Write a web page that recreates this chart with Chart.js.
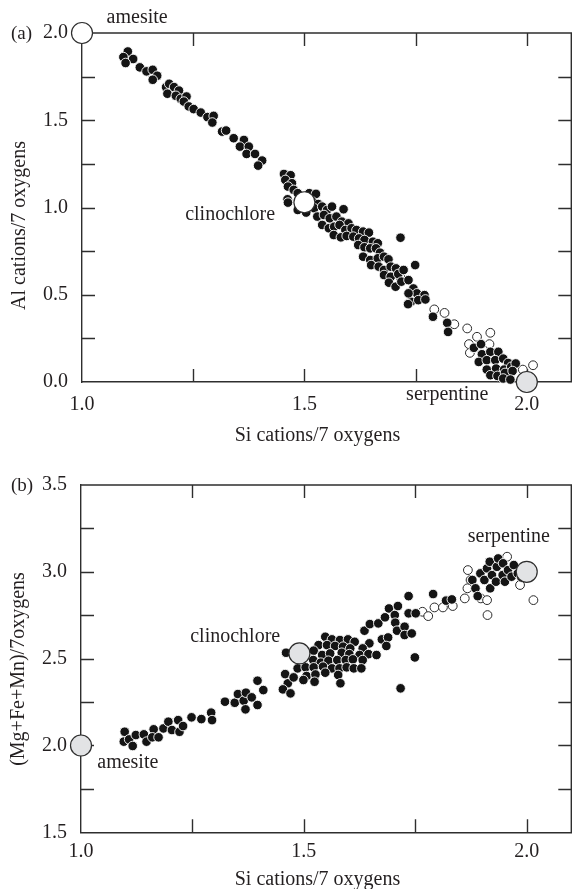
<!DOCTYPE html>
<html>
<head>
<meta charset="utf-8">
<script src="https://cdn.jsdelivr.net/npm/chart.js@4.4.1/dist/chart.umd.min.js"></script>
<style>
  html, body { margin: 0; padding: 0; background: #fff; }
  #wrapA { position: absolute; left: 0; top: 0; width: 583px; height: 452px; }
  #wrapB { position: absolute; left: 0; top: 452px; width: 583px; height: 437px; }
</style>
</head>
<body>
<div id="wrapA"><canvas id="chartA"></canvas></div>
<div id="wrapB"><canvas id="chartB"></canvas></div>
<script>
// ---------- Panel (a): Al vs Si, cations per 7 oxygens ----------
const siAlFilled = [
  [1.103,1.894],[1.093,1.862],[1.115,1.851],[1.098,1.828],[1.130,1.803],[1.145,1.780],[1.159,1.789],
  [1.169,1.755],[1.159,1.732],[1.189,1.690],[1.196,1.709],[1.207,1.690],[1.218,1.670],[1.192,1.652],
  [1.211,1.640],[1.222,1.623],[1.235,1.636],[1.229,1.607],[1.240,1.579],[1.251,1.564],[1.267,1.544],
  [1.282,1.518],[1.296,1.525],[1.293,1.487],[1.315,1.435],[1.324,1.441],[1.341,1.397],[1.364,1.387],
  [1.355,1.349],[1.375,1.349],[1.370,1.307],[1.389,1.307],[1.405,1.269],[1.396,1.240],
  [1.454,1.192],[1.469,1.185],[1.457,1.158],[1.472,1.139],[1.463,1.120],[1.476,1.101],[1.485,1.082],
  [1.462,1.047],[1.463,1.028],[1.511,1.082],[1.526,1.078],[1.485,0.986],[1.504,0.971],[1.518,1.034],
  [1.531,1.020],[1.522,0.996],[1.540,1.005],[1.551,0.986],[1.562,1.005],[1.588,0.990],[1.529,0.948],
  [1.544,0.957],[1.557,0.938],[1.572,0.948],[1.584,0.919],[1.599,0.909],[1.540,0.900],[1.555,0.881],
  [1.567,0.890],[1.579,0.900],[1.592,0.871],[1.606,0.881],[1.617,0.871],[1.632,0.862],[1.645,0.856],
  [1.566,0.842],[1.582,0.829],[1.595,0.837],[1.610,0.833],[1.623,0.823],[1.635,0.814],[1.654,0.804],
  [1.665,0.795],[1.621,0.785],[1.635,0.772],[1.648,0.766],[1.661,0.766],[1.670,0.741],[1.716,0.827],
  [1.632,0.718],[1.648,0.699],[1.665,0.709],[1.679,0.718],[1.689,0.703],[1.650,0.670],[1.667,0.661],
  [1.679,0.642],[1.694,0.661],[1.706,0.651],[1.679,0.613],[1.694,0.603],[1.711,0.619],[1.723,0.642],
  [1.749,0.670],[1.690,0.569],[1.705,0.546],[1.718,0.575],[1.734,0.584],[1.745,0.536],[1.753,0.508],
  [1.770,0.498],[1.740,0.460],[1.756,0.469],[1.733,0.446],[1.772,0.473],[1.789,0.374],[1.734,0.508],
  [1.821,0.339],[1.823,0.287],[1.881,0.196],[1.897,0.217],[1.899,0.159],[1.918,0.173],[1.936,0.173],
  [1.892,0.115],[1.910,0.125],[1.929,0.125],[1.947,0.134],[1.958,0.109],[1.910,0.071],[1.931,0.077],
  [1.949,0.071],[1.965,0.087],[1.975,0.106],[1.918,0.039],[1.934,0.035],[1.951,0.052],[1.968,0.063],
  [1.947,0.020],[1.963,0.014]
];
const siAlOpen = [
  [1.716,0.599],[1.792,0.416],[1.815,0.396],[1.837,0.331],[1.866,0.307],[1.888,0.259],[1.918,0.282],
  [1.870,0.217],[1.872,0.167],[1.916,0.217],[1.991,0.071],[2.014,0.096]
];
const endMemberNames = ['amesite', 'clinochlore', 'serpentine'];
const endSiA = [1.0, 1.5, 2.0];
const endAlA = [2.0, 1.03, 0.0];

// ---------- Panel (b): (Mg+Fe+Mn) vs Si, cations per 7 oxygens ----------
const siOctFilled = [
  [1.098,2.079],[1.096,2.022],[1.108,2.035],[1.116,1.997],[1.123,2.060],[1.141,2.064],[1.147,2.022],
  [1.163,2.093],[1.160,2.047],[1.174,2.047],[1.185,2.098],[1.196,2.137],[1.204,2.089],[1.218,2.146],
  [1.221,2.079],[1.229,2.112],[1.248,2.162],[1.270,2.152],[1.292,2.189],[1.294,2.146],[1.323,2.252],
  [1.345,2.246],[1.352,2.296],[1.365,2.258],[1.369,2.208],[1.370,2.304],[1.383,2.277],[1.396,2.373],
  [1.396,2.233],[1.409,2.319],[1.464,2.358],
  [1.548,2.626],[1.563,2.611],[1.581,2.607],[1.599,2.611],[1.614,2.597],[1.647,2.588],
  [1.533,2.578],[1.552,2.578],[1.570,2.573],[1.588,2.569],[1.604,2.559],[1.632,2.559],
  [1.522,2.546],[1.541,2.521],[1.559,2.530],[1.585,2.534],[1.602,2.526],[1.625,2.521],[1.645,2.526],
  [1.663,2.521],[1.521,2.492],[1.538,2.477],[1.555,2.488],[1.575,2.492],[1.594,2.492],[1.610,2.496],
  [1.632,2.492],[1.486,2.444],[1.504,2.450],[1.522,2.450],[1.543,2.454],[1.563,2.444],[1.580,2.444],
  [1.596,2.450],[1.612,2.444],[1.629,2.444],[1.458,2.411],[1.477,2.392],[1.506,2.400],[1.526,2.409],
  [1.548,2.419],[1.577,2.406],[1.499,2.377],[1.524,2.367],[1.582,2.358],[1.453,2.323],[1.470,2.300],
  [1.460,2.534],[1.717,2.329],[1.749,2.507],
  [1.636,2.661],[1.648,2.699],[1.667,2.703],[1.675,2.611],[1.689,2.622],[1.685,2.573],[1.682,2.738],
  [1.691,2.789],[1.704,2.751],[1.711,2.803],[1.705,2.707],[1.709,2.661],[1.726,2.684],[1.726,2.636],
  [1.742,2.645],[1.735,2.761],[1.751,2.761],[1.735,2.860],
  [1.790,2.872],[1.819,2.834],[1.832,2.841],[1.878,2.953],[1.885,2.905],[1.890,2.860],[1.896,2.991],
  [1.905,2.953],[1.911,3.020],[1.917,3.058],[1.918,2.905],[1.922,2.981],[1.931,2.943],[1.933,3.029],
  [1.936,3.077],[1.946,2.981],[1.947,3.049],[1.951,2.943],[1.958,3.010],[1.966,2.972],[1.971,3.039],
  [1.980,2.991],[1.988,2.968]
];
const siOctOpen = [
  [1.766,2.770],[1.779,2.745],[1.793,2.795],[1.812,2.795],[1.834,2.803],[1.861,2.847],[1.868,3.010],
  [1.874,2.953],[1.897,2.847],[1.911,2.837],[1.912,2.751],[1.956,3.087],[1.985,2.924],[2.015,2.837],
  [1.867,2.905]
];
const endSiB = [1.0, 1.49, 2.0];
const endOctB = [2.0, 2.53, 3.0];

// ---------- Axis ticks and their labels ----------
const siTicks = [1.0, 1.25, 1.5, 1.75, 2.0];
const siTickLabels = ['1.0', '', '1.5', '', '2.0'];
const alTicks = [0.0, 0.25, 0.5, 0.75, 1.0, 1.25, 1.5, 1.75, 2.0];
const alTickLabels = ['0.0', '', '0.5', '', '1.0', '', '1.5', '', '2.0'];
const octTicks = [1.5, 1.75, 2.0, 2.25, 2.5, 2.75, 3.0, 3.25, 3.5];
const octTickLabels = ['1.5', '', '2.0', '', '2.5', '', '3.0', '', '3.5'];

// ---------- Shared styling ----------
const INK = '#231f20';
const AXIS = '#2e2e2e';
const SERIF = "'Liberation Serif', 'Times New Roman', serif";
const GREY = '#e2e3e5';

const toXY = pairs => pairs.map(p => ({ x: p[0], y: p[1] }));
const zipXY = (xs, ys) => xs.map((x, i) => ({ x, y: ys[i] }));

function labelFrom(ticks, labels) {
  return v => {
    const i = ticks.findIndex(t => Math.abs(t - v) < 1e-9);
    return i >= 0 ? labels[i] : '';
  };
}

// Closed frame plus inward tick marks on all four sides
const framePlugin = {
  id: 'frame',
  beforeDatasetsDraw(chart, args, o) {
    const { ctx, chartArea: a } = chart;
    const xs = chart.scales.x, ys = chart.scales.y;
    const L = o.tickLength;
    ctx.save();
    ctx.strokeStyle = AXIS;
    ctx.lineWidth = 1.4;
    ctx.beginPath();
    ctx.moveTo(a.left, a.top); ctx.lineTo(a.right, a.top); ctx.lineTo(a.right, a.bottom);
    for (const v of o.xTicks) {
      const px = Math.round(xs.getPixelForValue(v)) + 0.5;
      if (px <= a.left + 1 || px >= a.right - 1) continue;
      ctx.moveTo(px, a.bottom); ctx.lineTo(px, a.bottom - L);
      ctx.moveTo(px, a.top); ctx.lineTo(px, a.top + L);
    }
    for (const v of o.yTicks) {
      const py = Math.round(ys.getPixelForValue(v)) + 0.5;
      if (py <= a.top + 1 || py >= a.bottom - 1) continue;
      ctx.moveTo(a.left, py); ctx.lineTo(a.left + L, py);
      ctx.moveTo(a.right, py); ctx.lineTo(a.right - L, py);
    }
    ctx.stroke();
    ctx.restore();
  }
};

// Panel letter, axis titles and end-member names
const notesPlugin = {
  id: 'notes',
  afterDatasetsDraw(chart, args, o) {
    const { ctx } = chart;
    const xs = chart.scales.x, ys = chart.scales.y;
    ctx.save();
    ctx.fillStyle = INK;
    ctx.font = '19px ' + SERIF;
    ctx.textAlign = 'left';
    ctx.textBaseline = 'middle';
    ctx.fillText(o.letter, o.letterPos[0], o.letterPos[1]);

    ctx.font = '20px ' + SERIF;
    ctx.textAlign = 'center';
    ctx.textBaseline = 'alphabetic';
    ctx.fillText(o.xTitle, o.xTitlePos[0], o.xTitlePos[1]);

    ctx.save();
    ctx.translate(o.yTitlePos[0], o.yTitlePos[1]);
    ctx.rotate(-Math.PI / 2);
    ctx.fillText(o.yTitle, 0, 0);
    ctx.restore();

    o.names.forEach((name, i) => {
      ctx.fillText(name, xs.getPixelForValue(o.nameX[i]), ys.getPixelForValue(o.nameY[i]));
    });
    ctx.restore();
  }
};

function buildConfig(p) {
  const tickFont = { family: SERIF, size: 20 };
  return {
    type: 'scatter',
    data: {
      datasets: [
        {
          data: zipXY(p.endX, p.endY),
          order: 0,
          clip: false,
          pointRadius: 10.5,
          pointBackgroundColor: p.endFill,
          pointBorderColor: AXIS,
          pointBorderWidth: 1.2
        },
        {
          data: toXY(p.filled),
          order: 1,
          clip: false,
          pointRadius: 4.8,
          pointBackgroundColor: '#141414',
          pointBorderColor: '#ffffff',
          pointBorderWidth: 0.9
        },
        {
          data: toXY(p.open),
          order: 2,
          clip: false,
          pointRadius: 4.4,
          pointBackgroundColor: '#ffffff',
          pointBorderColor: '#2a2a2a',
          pointBorderWidth: 1
        }
      ]
    },
    plugins: [framePlugin, notesPlugin],
    options: {
      responsive: true,
      maintainAspectRatio: false,
      animation: false,
      devicePixelRatio: 1,
      events: [],
      layout: { padding: { top: 33, right: 1.5, bottom: 0, left: 0 } },
      plugins: {
        legend: { display: false },
        tooltip: { enabled: false },
        frame: { tickLength: 13, xTicks: siTicks, yTicks: p.yTicks },
        notes: {
          letter: p.letter, letterPos: p.letterPos,
          xTitle: 'Si cations/7 oxygens', xTitlePos: p.xTitlePos,
          yTitle: p.yTitle, yTitlePos: p.yTitlePos,
          names: endMemberNames, nameX: p.nameX, nameY: p.nameY
        }
      },
      scales: {
        x: {
          type: 'linear',
          min: 1.0, max: 2.1,
          grid: { display: false, drawTicks: false },
          border: { display: true, color: AXIS, width: 1.4 },
          ticks: {
            stepSize: 0.25, autoSkip: false, maxRotation: 0, includeBounds: false,
            padding: p.xTickPad, font: tickFont, color: INK,
            callback: labelFrom(siTicks, siTickLabels)
          },
          afterFit: s => { s.height = p.xHeight; }
        },
        y: {
          type: 'linear',
          min: p.yMin, max: p.yMax,
          grid: { display: false, drawTicks: false },
          border: { display: true, color: AXIS, width: 1.4 },
          ticks: {
            stepSize: 0.25, autoSkip: false, padding: 14, font: tickFont, color: INK,
            callback: labelFrom(p.yTicks, p.yTickLabels)
          },
          afterFit: s => { s.width = p.yWidth; }
        }
      }
    }
  };
}

new Chart(document.getElementById('chartA'), buildConfig({
  filled: siAlFilled, open: siAlOpen,
  endX: endSiA, endY: endAlA, endFill: ['#ffffff', '#ffffff', GREY],
  yMin: 0, yMax: 2.0, yTicks: alTicks, yTickLabels: alTickLabels,
  yTitle: 'Al cations/7 oxygens',
  letter: '(a)', letterPos: [11, 34],
  xTitlePos: [317.5, 441], yTitlePos: [25, 225.5],
  nameX: [1.124, 1.333, 1.821], nameY: [2.057, 0.928, -0.101],
  xTickPad: 11, xHeight: 70, yWidth: 82
}));

new Chart(document.getElementById('chartB'), buildConfig({
  filled: siOctFilled, open: siOctOpen,
  endX: endSiB, endY: endOctB, endFill: [GREY, GREY, GREY],
  yMin: 1.5, yMax: 3.5, yTicks: octTicks, yTickLabels: octTickLabels,
  yTitle: '(Mg+Fe+Mn)/7oxygens',
  letter: '(b)', letterPos: [11, 34],
  xTitlePos: [317.5, 433], yTitlePos: [24, 217],
  nameX: [1.105, 1.346, 1.960], nameY: [1.868, 2.597, 3.173],
  xTickPad: 7, xHeight: 56.7, yWidth: 81
}));
</script>
</body>
</html>
